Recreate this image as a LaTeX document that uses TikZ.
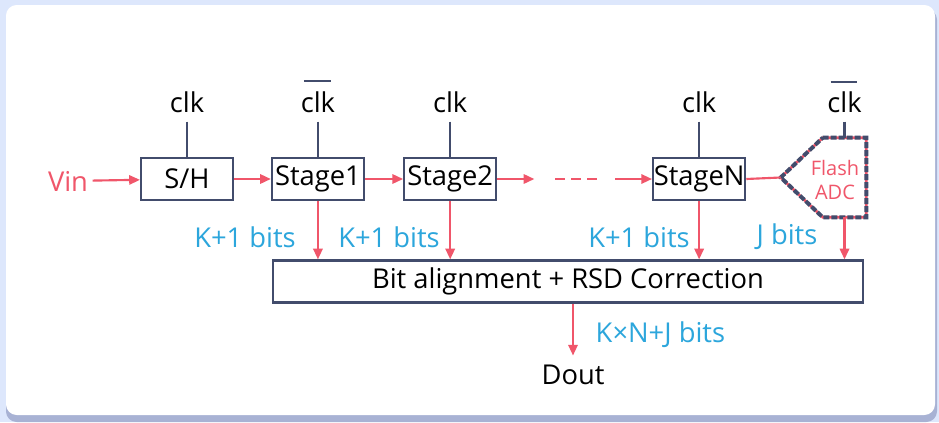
\documentclass[tikz,border=0pt]{standalone}
\usepackage{fontspec}
\setmainfont{Open Sans}
\usepackage{tikz}
\usetikzlibrary{arrows.meta,positioning}
\definecolor{dfred}{RGB}{240,86,106}
\definecolor{dfnavy}{RGB}{66,76,108}
\definecolor{dfcyan}{RGB}{44,166,220}
\definecolor{dfback}{RGB}{221,231,252}
\definecolor{dfshade}{RGB}{168,178,212}
\tikzstyle{block} = [rectangle, draw=dfnavy, line width=1.7pt, fill=white, minimum width=69pt, minimum height=32pt, inner sep=0pt]
\tikzstyle{arrow} = [line width=1.6pt, -{Triangle[length=8pt,width=7pt]}, color=dfred]
\tikzstyle{wire} = [line width=1.6pt, color=dfnavy]
\tikzstyle{bits} = [text=dfcyan]
\tikzstyle{clock} = [inner sep=6.5pt]
\newcommand{\clkbar}{\makebox[0pt][l]{\hspace{2.4pt}\textcolor{dfnavy}{\rule[22.5pt]{20pt}{1.5pt}}}clk}

\begin{document}
\begin{tikzpicture}[x=0.75pt, y=-0.75pt, font=\fontsize{20.5}{24}\selectfont]
\useasboundingbox (0,0) rectangle (939,422);
% card
\fill[dfback] (0,0) rectangle (939,422);
\fill[dfshade, rounded corners=8pt] (6,9) rectangle (937,422);
\fill[white, rounded corners=8pt] (6,5) rectangle (935,415);

% pipeline
\node (sh) [block] at (187,179) {S/H};
\node (s1) [block, right=27.5pt of sh] {Stage1};
\node (s2) [block, right=28.5pt of s1] {Stage2};
\node (sN) [block, right=116pt of s2] {StageN};
\node (flash) [minimum width=32.25pt, minimum height=59.25pt, inner sep=0pt] at (844.5,177.5) {};
\coordinate (ftip) at ([xshift=-31.5pt]flash.west);
\draw[dfred, line width=2pt] (flash.north west) -- (flash.north east) -- (flash.south east) -- (flash.south west) -- (ftip) -- cycle;
\draw[dfnavy, line width=3pt, dash pattern=on 4.5pt off 1.5pt] (flash.north west) -- (flash.north east) -- (flash.south east) -- (flash.south west) -- (ftip) -- cycle;
\node (ftxt) [text=dfred, align=center, font=\fontsize{15}{17.5}\selectfont] at (835,180) {Flash\\ADC};

% clocks
\node (c1) [clock, above=26.25pt of sh] {clk};
\node (c2) [clock, above=26.25pt of s1] {\clkbar};
\node (c3) [clock, above=26.25pt of s2] {clk};
\node (c4) [clock, above=26.25pt of sN] {clk};
\node (c5) [clock, above=12pt of flash] {\clkbar};
\foreach \c/\b in {c1/sh, c2/s1, c3/s2, c4/sN, c5/flash}
  \draw[wire] (\c.south) -- (\b.north);

% signal path
\node (vin) [text=dfred] at (68,181) {Vin};
\draw[arrow] (vin) -- (sh);
\draw[arrow] (sh) -- (s1);
\draw[arrow] (s1) -- (s2);
\path (s2.east) ++(37,0) coordinate (d1) ++(21,0) coordinate (d2) ++(42,0) coordinate (d3) ++(18,0) coordinate (d4);
\draw[arrow] (s2.east) -- (d1);
\draw[dfred, line width=1.6pt, dash pattern=on 7.5pt off 4.5pt] (d2) -- (d3);
\draw[arrow] (d4) -- (sN.west);
\draw[dfred, line width=1.6pt] (sN.east) -- (ftip);

% correction
\node (bit) [block, minimum width=443pt, minimum height=31.5pt] at (568,281.5) {Bit alignment + RSD Correction};
\draw[arrow] (s1.south) -- (s1.south |- bit.north);
\draw[arrow] (s2.south) -- (s2.south |- bit.north);
\draw[arrow] (sN.south) -- (sN.south |- bit.north);
\draw[arrow] (flash.south) -- (flash.south |- bit.north);
\node (l1) [bits] at (245,237) {K+1 bits};
\node (l2) [bits] at (389,237) {K+1 bits};
\node (l3) [bits] at (639,237) {K+1 bits};
\node (l4) [bits] at (787,237) {J bits};

% output
\node (dout) [inner sep=7pt] at (573,375) {Dout};
\draw[arrow] (dout.north |- bit.south) -- (dout.north);
\node (kn) [bits, anchor=west] at (591,335) {K×N+J bits};
\end{tikzpicture}
\end{document}
